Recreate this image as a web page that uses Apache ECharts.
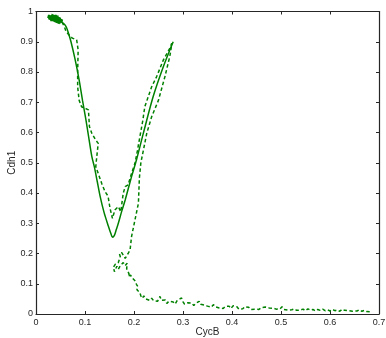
<!DOCTYPE html>
<html><head><meta charset="utf-8">
<script src="https://cdn.jsdelivr.net/npm/echarts@6/dist/echarts.min.js"></script>
<style>html,body{margin:0;padding:0;background:#fff}#c{width:386px;height:338px}</style>
</head><body><div id="c"></div>
<script>
// tick values
var xTicks = [0, 0.1, 0.2, 0.3, 0.4, 0.5, 0.6, 0.7];
var yTicks = [0, 0.1, 0.2, 0.3, 0.4, 0.5, 0.6, 0.7, 0.8, 0.9, 1];

// deterministic trajectory (solid)
var cycbDet = [0.052,0.058,0.062,0.066,0.0714,0.08,0.088,0.095,0.102,0.108,0.114,0.119,0.125,0.131,0.139,0.148,0.153,0.156,0.16,0.164,0.168,0.175,0.182,0.195,0.205,0.219,0.239,0.26,0.28];
var cdh1Det = [0.966,0.958,0.948,0.93,0.90,0.84,0.774,0.705,0.641,0.58,0.52,0.487,0.438,0.388,0.335,0.289,0.265,0.254,0.26,0.28,0.30,0.34,0.377,0.454,0.509,0.597,0.718,0.818,0.90];

// stochastic trajectory near the steady state (dense cluster)
var cycbSS = [0.025,0.05,0.03,0.046,0.027,0.052,0.034,0.042,0.026,0.049,0.037,0.054,0.031,0.05,0.029,0.044,0.024,0.051,0.036,0.047,0.028];
var cdh1SS = [0.986,0.966,0.976,0.982,0.981,0.968,0.973,0.985,0.979,0.962,0.971,0.968,0.988,0.975,0.973,0.979,0.984,0.964,0.977,0.971,0.983];

// stochastic trajectory (dashed): excursion around the V
var cycbStoA = [0.053,0.058,0.061,0.066,0.074,0.083,0.086,0.085,0.085,0.088,0.093,0.1,0.107,0.109,0.114,0.122,0.127,0.124,0.122,0.128,0.134,0.141,0.147,0.151,0.156,0.161,0.168,0.173,0.178,0.182,0.188,0.195,0.202,0.207,0.212,0.218,0.222,0.236,0.246,0.26,0.273,0.277,0.275,0.273,0.263,0.25,0.236,0.226,0.219,0.214,0.211,0.209,0.202,0.195,0.192,0.188,0.182];
var cdh1StoA = [0.965,0.95,0.935,0.925,0.912,0.906,0.873,0.80,0.751,0.707,0.685,0.68,0.675,0.62,0.597,0.575,0.564,0.52,0.487,0.46,0.432,0.404,0.39,0.35,0.316,0.344,0.355,0.338,0.399,0.421,0.427,0.465,0.498,0.54,0.586,0.64,0.685,0.751,0.784,0.84,0.878,0.895,0.87,0.851,0.784,0.707,0.652,0.597,0.54,0.50,0.45,0.366,0.311,0.256,0.212,0.2,0.184];
// stochastic trajectory (dashed): noisy tail toward the low-Cdh1 state
var cycbStoB = [0.178,0.175,0.17,0.168,0.172,0.168,0.162,0.158,0.162,0.16,0.165,0.168,0.172,0.178,0.182,0.186,0.185,0.19,0.187,0.193,0.197,0.2,0.203,0.205,0.208,0.206,0.21,0.212,0.214,0.217,0.22,0.224,0.228,0.232,0.236,0.24,0.244,0.248,0.253,0.256,0.26,0.264,0.267,0.271,0.275,0.28,0.284,0.288,0.292,0.297,0.3,0.303,0.307,0.31,0.314,0.318,0.322,0.326,0.33,0.333,0.336,0.34,0.343,0.347,0.35,0.354,0.358,0.362,0.366,0.37,0.374,0.378,0.382,0.386,0.39,0.394,0.398,0.402,0.406,0.41,0.414,0.418,0.422,0.426,0.43,0.434,0.438,0.442,0.446,0.45,0.455,0.46,0.464,0.468,0.472,0.476,0.48,0.485,0.49,0.494,0.498,0.502,0.506,0.51,0.514,0.518,0.522,0.527,0.532,0.536,0.54,0.545,0.55,0.555,0.56,0.565,0.57,0.575,0.58,0.585,0.59,0.595,0.6,0.605,0.61,0.615,0.62,0.625,0.63,0.634,0.638,0.642,0.646,0.65,0.655,0.66,0.665,0.67,0.675,0.682];
var cdh1StoB = [0.19,0.203,0.2,0.205,0.19,0.17,0.165,0.155,0.15,0.14,0.158,0.148,0.16,0.17,0.16,0.168,0.15,0.132,0.125,0.128,0.118,0.12,0.108,0.098,0.09,0.08,0.085,0.07,0.06,0.052,0.06,0.05,0.055,0.045,0.052,0.044,0.05,0.042,0.058,0.045,0.04,0.046,0.035,0.042,0.036,0.04,0.033,0.044,0.038,0.053,0.04,0.033,0.03,0.037,0.032,0.036,0.028,0.035,0.03,0.042,0.032,0.038,0.03,0.034,0.026,0.03,0.023,0.031,0.024,0.027,0.02,0.026,0.018,0.025,0.02,0.026,0.018,0.027,0.021,0.024,0.016,0.022,0.017,0.024,0.018,0.022,0.015,0.021,0.016,0.02,0.015,0.021,0.016,0.023,0.017,0.02,0.014,0.019,0.016,0.022,0.017,0.024,0.015,0.018,0.013,0.019,0.014,0.017,0.012,0.018,0.013,0.016,0.011,0.017,0.013,0.015,0.01,0.015,0.012,0.016,0.011,0.014,0.01,0.015,0.011,0.013,0.009,0.016,0.012,0.018,0.011,0.014,0.009,0.013,0.01,0.014,0.009,0.012,0.008,0.007];

function zip(a, b) { return a.map(function (v, i) { return [v, b[i]]; }); }

var GREEN = '#008000';
var AX = '#262626';
var FONT = '"Liberation Sans", Arial, sans-serif';

function fmt(v) { return String(Math.round(v * 10) / 10); }

var stoData = zip(cycbStoA, cdh1StoA).concat(zip(cycbStoB, cdh1StoB));

var chart = echarts.init(document.getElementById('c'), null, {renderer: 'canvas'});
chart.setOption({
  animation: false,
  backgroundColor: '#fff',
  grid: {left: 36, right: 7, top: 11.5, bottom: 24, containLabel: false, outerBoundsMode: 'none'},
  xAxis: [{
    type: 'value', min: xTicks[0], max: xTicks[xTicks.length - 1], interval: 0.1, position: 'bottom',
    name: 'CycB', nameLocation: 'middle', nameGap: 13, nameMoveOverlap: false,
    nameTextStyle: {color: AX, fontSize: 10, fontFamily: FONT},
    axisLine: {show: true, onZero: false, lineStyle: {color: AX, width: 1.2}},
    axisTick: {show: true, inside: true, length: 3, lineStyle: {color: AX}},
    axisLabel: {color: AX, fontSize: 9, fontFamily: FONT, margin: 4, formatter: fmt},
    splitLine: {show: false}
  }, {
    type: 'value', min: xTicks[0], max: xTicks[xTicks.length - 1], interval: 0.1, position: 'top',
    axisLine: {show: true, onZero: false, lineStyle: {color: AX, width: 1.2}},
    axisTick: {show: true, inside: true, length: 3, lineStyle: {color: AX}},
    axisLabel: {show: false}, splitLine: {show: false}
  }],
  yAxis: [{
    type: 'value', min: yTicks[0], max: yTicks[yTicks.length - 1], interval: 0.1, position: 'left',
    name: 'Cdh1', nameLocation: 'middle', nameGap: 19, nameRotate: 90, nameMoveOverlap: false,
    nameTextStyle: {color: AX, fontSize: 10, fontFamily: FONT},
    axisLine: {show: true, onZero: false, lineStyle: {color: AX, width: 1.2}},
    axisTick: {show: true, inside: true, length: 3, lineStyle: {color: AX}},
    axisLabel: {color: AX, fontSize: 9, fontFamily: FONT, margin: 3, formatter: fmt},
    splitLine: {show: false}
  }, {
    type: 'value', min: yTicks[0], max: yTicks[yTicks.length - 1], interval: 0.1, position: 'right',
    axisLine: {show: true, onZero: false, lineStyle: {color: AX, width: 1.2}},
    axisTick: {show: true, inside: true, length: 3, lineStyle: {color: AX}},
    axisLabel: {show: false}, splitLine: {show: false}
  }],
  series: [{
    type: 'line', data: zip(cycbSS, cdh1SS), showSymbol: false, smooth: false,
    lineStyle: {color: GREEN, width: 3}, silent: true
  }, {
    type: 'line', data: stoData, showSymbol: false, smooth: false,
    lineStyle: {color: GREEN, width: 1.5, type: [3.5, 2.5]}, silent: true
  }, {
    type: 'line', data: zip(cycbDet, cdh1Det), showSymbol: false, smooth: 0.3,
    lineStyle: {color: GREEN, width: 1.5}, silent: true
  }]
});
</script></body></html>
